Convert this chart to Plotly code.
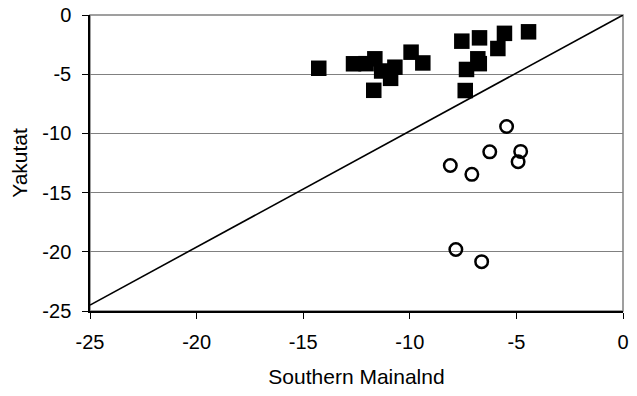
import plotly.graph_objects as go

# Filled squares (Southern Mainland vs Yakutat)
sq_x = [-14.27, -12.64, -12.05, -11.64, -11.32, -10.70, -10.90, -11.69, -9.94, -9.39,
        -7.56, -6.73, -5.87, -5.56, -4.43, -6.81, -6.74, -7.34, -7.40]
sq_y = [-4.50, -4.12, -4.11, -3.70, -4.73, -4.41, -5.35, -6.36, -3.14, -4.05,
        -2.21, -1.93, -2.83, -1.55, -1.42, -3.70, -4.11, -4.60, -6.38]

# Open circles
ci_x = [-5.46, -6.25, -4.80, -4.92, -8.10, -7.09, -7.84, -6.63]
ci_y = [-9.42, -11.56, -11.52, -12.40, -12.71, -13.46, -19.80, -20.83]

# Reference line
line_x = [-25, 0]
line_y = [-24.5, 0]

tick_vals = [-25, -20, -15, -10, -5, 0]
tick_text = ["-25", "-20", "-15", "-10", "-5", "0"]

FONT = "Liberation Sans, Arial, sans-serif"

fig = go.Figure()
fig.add_trace(go.Scatter(x=line_x, y=line_y, mode="lines",
                         line=dict(color="black", width=1.6), showlegend=False))
fig.add_trace(go.Scatter(x=sq_x, y=sq_y, mode="markers",
                         marker=dict(symbol="square", size=15.5, color="black",
                                     line=dict(width=0)), showlegend=False))
fig.add_trace(go.Scatter(x=ci_x, y=ci_y, mode="markers",
                         marker=dict(symbol="circle-open", size=12.5, color="black",
                                     line=dict(width=2.5, color="black")), showlegend=False))

fig.add_shape(type="rect", xref="paper", yref="paper", x0=0, y0=0, x1=1, y1=1,
              line=dict(color="#808080", width=1.5), layer="below")

fig.update_layout(
    width=637, height=396,
    margin=dict(l=90, r=14, t=15, b=85),
    paper_bgcolor="white", plot_bgcolor="white",
    font=dict(family=FONT, size=20, color="black"),
    xaxis=dict(range=[-25, 0], tickvals=tick_vals, ticktext=tick_text,
               automargin=False,
               showgrid=False, zeroline=False,
               showline=True, linecolor="black", linewidth=1.5,
               ticks="outside", ticklen=6, tickcolor="black", tickwidth=1.3,
               ticklabelstandoff=6,
               tickfont=dict(size=20),
               title=dict(text="Southern Mainalnd", standoff=18,
                          font=dict(size=21))),
    yaxis=dict(range=[-25, 0], tickvals=tick_vals, ticktext=tick_text,
               automargin=False,
               showgrid=True, gridcolor="#808080", gridwidth=1,
               zeroline=False,
               showline=True, linecolor="black", linewidth=1.5,
               ticks="outside", ticklen=6, tickcolor="black", tickwidth=1.3,
               ticklabelstandoff=7,
               tickfont=dict(size=20),
               title=dict(text="Yakutat", standoff=9, font=dict(size=21))),
)

fig.write_html("out.html", config={"displayModeBar": False},
               post_script="document.body.style.margin='0';document.body.style.overflow='hidden';")
